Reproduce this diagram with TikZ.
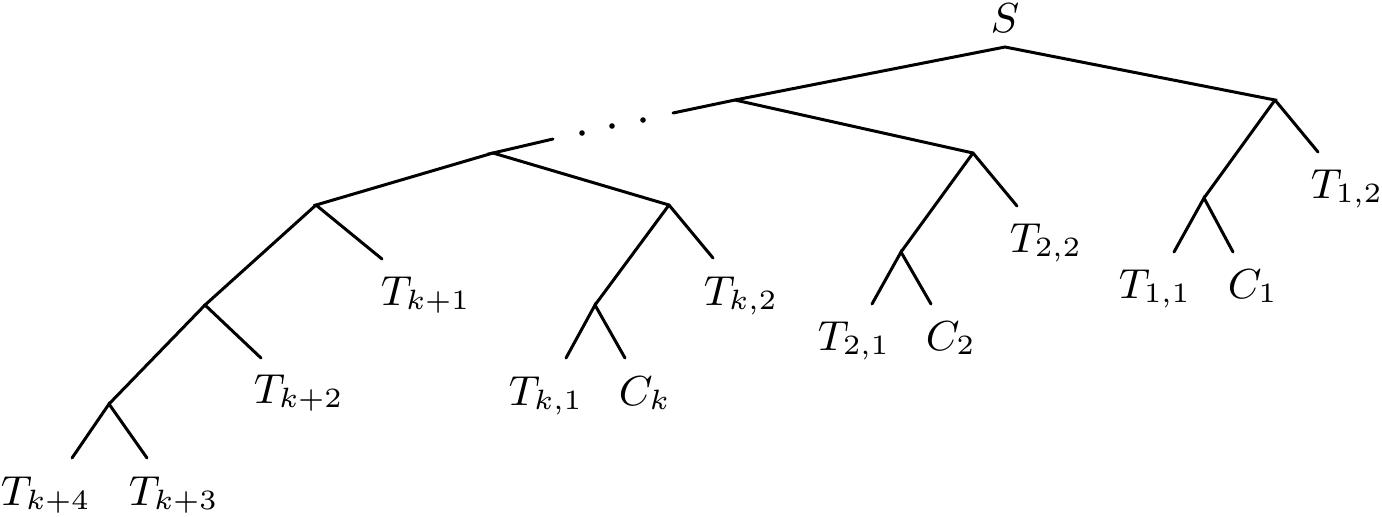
\documentclass[tikz,border=0pt]{standalone}
\begin{document}
\begin{tikzpicture}[x=0.5pt,y=-0.5pt,
  edge/.style={line width=1.5pt,line cap=round},
  lab/.style={anchor=base west,inner sep=0pt,font=\fontsize{9}{11}\selectfont,scale=2.33},
  dot/.style={circle,fill=black,inner sep=0pt,minimum size=2.8pt}]
\useasboundingbox (0,0) rectangle (1382,516);
% inner points
\coordinate (r) at (1005,47);
\coordinate (a) at (735,100);
\coordinate (b) at (1275,100);
\coordinate (c) at (973,153);
\coordinate (d) at (901,252);
\coordinate (e) at (1204,198);
\coordinate (f) at (493,153);
\coordinate (g) at (669,205);
\coordinate (h) at (595,305);
\coordinate (i) at (316,205);
\coordinate (j) at (205,305);
\coordinate (l) at (109,404);
\coordinate (p) at (673,113);
\coordinate (q) at (553,139);
% leaf ends
\coordinate (b2) at (1318,152);
\coordinate (e1) at (1174,252);
\coordinate (e2) at (1233,252);
\coordinate (c2) at (1017,206);
\coordinate (d1) at (872,304);
\coordinate (d2) at (931,304);
\coordinate (g2) at (713,258);
\coordinate (h1) at (566,358);
\coordinate (h2) at (625,358);
\coordinate (i2) at (382,259);
\coordinate (j2) at (261,358);
\coordinate (l1) at (72,458);
\coordinate (l2) at (147,458);
% edges
\draw[edge] (p) -- (a) -- (r) -- (b) -- (e);
\draw[edge] (b) -- (b2);
\draw[edge] (e1) -- (e) -- (e2);
\draw[edge] (a) -- (c) -- (c2);
\draw[edge] (c) -- (d);
\draw[edge] (d1) -- (d) -- (d2);
\draw[edge] (q) -- (f) -- (g) -- (g2);
\draw[edge] (g) -- (h);
\draw[edge] (h1) -- (h) -- (h2);
\draw[edge] (f) -- (i) -- (i2);
\draw[edge] (i) -- (j) -- (j2);
\draw[edge] (j) -- (l);
\draw[edge] (l1) -- (l) -- (l2);
% dots
\node[dot] (dt1) at (582,133) {};
\node[dot] (dt2) at (612,126) {};
\node[dot] (dt3) at (643,120) {};
% labels
\node[lab,anchor=base] (S) at (1005,32) {$S$};
\node[lab] (T12) at (1310,198) {$T_{1,2}$};
\node[lab] (T11) at (1118,298) {$T_{1,1}$};
\node[lab] (C1) at (1227,298) {$C_1$};
\node[lab] (T22) at (1009,252) {$T_{2,2}$};
\node[lab] (T21) at (817,350) {$T_{2,1}$};
\node[lab] (C2) at (925,350) {$C_2$};
\node[lab] (Tk2) at (703,305) {$T_{k,2}$};
\node[lab] (Tk1) at (508,405) {$T_{k,1}$};
\node[lab] (Ck) at (618,405) {$C_k$};
\node[lab] (Tk1p) at (380,305) {$T_{k+1}$};
\node[lab] (Tk2p) at (253,403) {$T_{k+2}$};
\node[lab] (Tk4) at (0,505) {$T_{k+4}$};
\node[lab] (Tk3) at (128,505) {$T_{k+3}$};
\end{tikzpicture}
\end{document}
